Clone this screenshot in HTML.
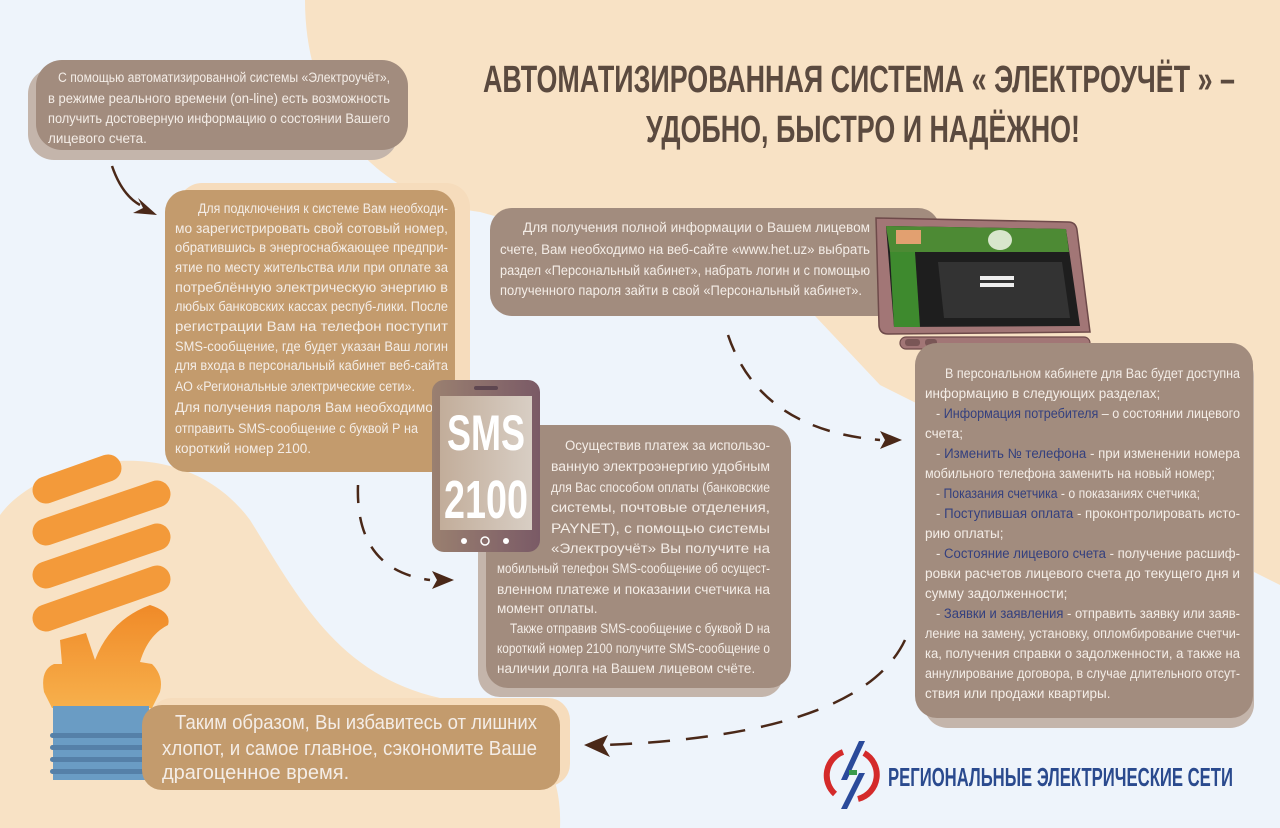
<!DOCTYPE html>
<html><head><meta charset="utf-8"><style>
html,body{margin:0;padding:0;background:#eef4fb;}
svg{display:block}
.t{font-family:"Liberation Sans Narrow","Liberation Sans",sans-serif;font-size:13.5px;fill:#f4ede7}
.b{fill:#34407e}
</style></head><body>
<svg width="1280" height="828" viewBox="0 0 1280 828" xmlns="http://www.w3.org/2000/svg">
<rect width="1280" height="828" fill="#eef4fb"/>
<path d="M305,0 C305,120 380,200 480,212 L800,300 L880,385 L1280,585 L1280,0 Z" fill="#f8e2c5"/>
<path d="M0,515 C40,460 180,425 250,520 C300,600 340,680 450,700 C545,715 562,780 560,828 L0,828 Z" fill="#f8e2c5"/>

<!-- box1 -->
<rect x="28" y="68" width="370" height="92" rx="26" fill="#c4b5ab"/>
<rect x="36" y="60" width="372" height="90" rx="26" fill="#a28c7e"/>
<g class="t">
<text x="58" y="82" textLength="332" lengthAdjust="spacingAndGlyphs">С помощью автоматизированной системы «Электроучёт»,</text>
<text x="48" y="103" textLength="342" lengthAdjust="spacingAndGlyphs">в режиме реального времени (on-line) есть возможность</text>
<text x="48" y="123" textLength="342" lengthAdjust="spacingAndGlyphs">получить достоверную информацию о состоянии Вашего</text>
<text x="48" y="143">лицевого счета.</text>
</g>

<!-- box2 -->
<rect x="178" y="183" width="292" height="285" rx="24" fill="#f6dcbc"/>
<rect x="165" y="190" width="290" height="282" rx="22" fill="#c39b6d"/>
<g class="t">
<text x="198" y="213" textLength="250" lengthAdjust="spacingAndGlyphs">Для подключения к системе Вам необходи-</text>
<text x="175" y="233" textLength="273" lengthAdjust="spacingAndGlyphs">мо зарегистрировать свой сотовый номер,</text>
<text x="175" y="252" textLength="273" lengthAdjust="spacingAndGlyphs">обратившись в энергоснабжающее предпри-</text>
<text x="175" y="272" textLength="273" lengthAdjust="spacingAndGlyphs">ятие по месту жительства или при оплате за</text>
<text x="175" y="292" textLength="273" lengthAdjust="spacingAndGlyphs">потреблённую электрическую энергию в</text>
<text x="175" y="311" textLength="273" lengthAdjust="spacingAndGlyphs">любых банковских кассах респуб-лики. После</text>
<text x="175" y="331" textLength="273" lengthAdjust="spacingAndGlyphs">регистрации Вам на телефон поступит</text>
<text x="175" y="351" textLength="273" lengthAdjust="spacingAndGlyphs">SMS-сообщение, где будет указан Ваш логин</text>
<text x="175" y="370" textLength="273" lengthAdjust="spacingAndGlyphs">для входа в персональный кабинет веб-сайта</text>
<text x="175" y="391" textLength="240" lengthAdjust="spacingAndGlyphs">АО «Региональные электрические сети».</text>
<text x="175" y="412" textLength="258" lengthAdjust="spacingAndGlyphs">Для получения пароля Вам необходимо</text>
<text x="175" y="433" textLength="243" lengthAdjust="spacingAndGlyphs">отправить SMS-сообщение с буквой Р на</text>
<text x="175" y="453">короткий номер 2100.</text>
</g>

<!-- box3 -->
<rect x="490" y="208" width="450" height="108" rx="22" fill="#a28c7e"/>
<g class="t">
<text x="523" y="232" textLength="347" lengthAdjust="spacingAndGlyphs">Для получения полной информации о Вашем лицевом</text>
<text x="500" y="254" textLength="370" lengthAdjust="spacingAndGlyphs">счете, Вам необходимо на веб-сайте «www.het.uz» выбрать</text>
<text x="500" y="275" textLength="370" lengthAdjust="spacingAndGlyphs">раздел «Персональный кабинет», набрать логин и с помощью</text>
<text x="500" y="295" textLength="362" lengthAdjust="spacingAndGlyphs">полученного пароля зайти  в свой «Персональный кабинет».</text>
</g>

<!-- laptop -->
<path d="M876,218 L1068,222 Q1076,222 1077,230 L1090,332 L888,334 Q880,334 879,326 Z" fill="#a27676" stroke="#6e4a4a" stroke-width="1.5"/>
<path d="M886,226 L1066,229 L1080,326 L894,327 Z" fill="#1e1e1e"/>
<path d="M886,226 L1066,229 L1069,252 L890,252 Z" fill="#4d8a34"/>
<path d="M890,252 L915,252 L920,327 L894,327 Z" fill="#3e8a2e"/>
<rect x="896" y="230" width="25" height="14" fill="#e2a070"/>
<path d="M938,262 L1062,262 L1070,318 L944,318 Z" fill="#333"/>
<rect x="980" y="276" width="34" height="4" fill="#eee"/>
<rect x="980" y="283" width="34" height="4" fill="#eee"/>
<ellipse cx="1000" cy="240" rx="12" ry="10" fill="#d8e6cc"/>
<rect x="900" y="337" width="190" height="12" rx="6" fill="#a27676" stroke="#6e4a4a" stroke-width="1.2"/>
<rect x="905" y="339" width="15" height="7" rx="3" fill="#7a5656"/>
<rect x="925" y="339" width="12" height="7" rx="3" fill="#7a5656"/>

<!-- box4 -->
<rect x="924" y="352" width="330" height="376" rx="24" fill="#c4b5ab"/>
<rect x="915" y="343" width="338" height="375" rx="22" fill="#a28c7e"/>
<g class="t">
<text x="945" y="378" textLength="295" lengthAdjust="spacingAndGlyphs">В персональном кабинете для Вас будет доступна</text>
<text x="925" y="398">информацию в следующих разделах;</text>
<text x="936" y="418" textLength="304" lengthAdjust="spacingAndGlyphs">- <tspan class="b">Информация потребителя</tspan> –  о состоянии лицевого</text>
<text x="925" y="438">счета;</text>
<text x="936" y="458" textLength="304" lengthAdjust="spacingAndGlyphs">- <tspan class="b">Изменить № телефона</tspan>  - при изменении номера</text>
<text x="925" y="478" textLength="290" lengthAdjust="spacingAndGlyphs">мобильного телефона заменить на новый номер;</text>
<text x="936" y="498" textLength="264" lengthAdjust="spacingAndGlyphs">- <tspan class="b">Показания счетчика</tspan>  - о показаниях счетчика;</text>
<text x="936" y="518" textLength="304" lengthAdjust="spacingAndGlyphs">- <tspan class="b">Поступившая оплата</tspan>  - проконтролировать  исто-</text>
<text x="925" y="538">рию оплаты;</text>
<text x="936" y="558" textLength="304" lengthAdjust="spacingAndGlyphs">- <tspan class="b">Состояние лицевого счета</tspan>  - получение  расшиф-</text>
<text x="925" y="578" textLength="315" lengthAdjust="spacingAndGlyphs">ровки  расчетов лицевого счета до текущего дня  и</text>
<text x="925" y="598">сумму задолженности;</text>
<text x="936" y="618" textLength="304" lengthAdjust="spacingAndGlyphs">- <tspan class="b">Заявки и заявления</tspan>  - отправить заявку или  заяв-</text>
<text x="925" y="638" textLength="315" lengthAdjust="spacingAndGlyphs">ление на замену, установку,  опломбирование счетчи-</text>
<text x="925" y="658" textLength="315" lengthAdjust="spacingAndGlyphs">ка, получения справки о задолженности, а также на</text>
<text x="925" y="678" textLength="315" lengthAdjust="spacingAndGlyphs">аннулирование договора, в случае длительного отсут-</text>
<text x="925" y="698">ствия или продажи квартиры.</text>
</g>

<!-- box5 -->
<rect x="478" y="433" width="305" height="264" rx="22" fill="#c4b5ab"/>
<rect x="486" y="425" width="305" height="263" rx="22" fill="#a28c7e"/>
<g class="t">
<text x="565" y="450" textLength="205" lengthAdjust="spacingAndGlyphs">Осуществив платеж за использо-</text>
<text x="551" y="471" textLength="219" lengthAdjust="spacingAndGlyphs">ванную электроэнергию удобным</text>
<text x="551" y="492" textLength="219" lengthAdjust="spacingAndGlyphs">для Вас способом оплаты (банковские</text>
<text x="551" y="512" textLength="219" lengthAdjust="spacingAndGlyphs">системы, почтовые отделения,</text>
<text x="551" y="533" textLength="219" lengthAdjust="spacingAndGlyphs">PAYNET), с помощью системы</text>
<text x="551" y="553" textLength="219" lengthAdjust="spacingAndGlyphs">«Электроучёт» Вы получите на</text>
<text x="497" y="573" textLength="273" lengthAdjust="spacingAndGlyphs">мобильный телефон SMS-сообщение об осущест-</text>
<text x="497" y="594" textLength="273" lengthAdjust="spacingAndGlyphs">вленном платеже и показании счетчика на</text>
<text x="497" y="613">момент оплаты.</text>
<text x="510" y="633" textLength="260" lengthAdjust="spacingAndGlyphs">Также отправив SMS-сообщение с буквой D на</text>
<text x="497" y="653" textLength="273" lengthAdjust="spacingAndGlyphs">короткий номер 2100 получите SMS-сообщение о</text>
<text x="497" y="673">наличии долга на Вашем лицевом счёте.</text>
</g>

<!-- phone -->
<defs><linearGradient id="ph" x1="0" x2="1"><stop offset="0" stop-color="#9a8070"/><stop offset="1" stop-color="#7a5a66"/></linearGradient>
<linearGradient id="sc" x1="0" x2="1"><stop offset="0" stop-color="#c2ad9a"/><stop offset="1" stop-color="#d8cec4"/></linearGradient>
<linearGradient id="bl" x1="0" y1="0" x2="0" y2="1"><stop offset="0" stop-color="#f08a28"/><stop offset="1" stop-color="#f7b04c"/></linearGradient></defs>
<rect x="432" y="380" width="108" height="172" rx="12" fill="url(#ph)"/>
<rect x="440" y="396" width="92" height="134" fill="url(#sc)"/>
<rect x="474" y="386" width="24" height="4" rx="2" fill="#5e4650"/>
<text x="486" y="450" text-anchor="middle" font-family="Liberation Sans Narrow,Liberation Sans,sans-serif" font-weight="bold" font-size="50" fill="#fff" textLength="78" lengthAdjust="spacingAndGlyphs">SMS</text>
<text x="486" y="518" text-anchor="middle" font-family="Liberation Sans Narrow,Liberation Sans,sans-serif" font-weight="bold" font-size="54" fill="#fff" textLength="84" lengthAdjust="spacingAndGlyphs">2100</text>
<circle cx="464" cy="541" r="3" fill="#fff"/><circle cx="485" cy="541" r="4" fill="none" stroke="#fff" stroke-width="1.5"/><circle cx="506" cy="541" r="3" fill="#fff"/>

<!-- bulb -->
<g stroke="#f39a3a" stroke-width="27" stroke-linecap="round" fill="none">
<line x1="46" y1="490" x2="108" y2="468"/>
<line x1="46" y1="532" x2="157" y2="494"/>
<line x1="46" y1="575" x2="157" y2="537"/>
<line x1="46" y1="618" x2="157" y2="579"/>
</g>
<path d="M60,640 L86,633 L95,660 Q110,620 150,605 Q172,612 168,625 Q148,635 140,662 L152,664 Q164,676 160,692 L152,708 L52,708 L44,692 Q40,670 54,664 L62,664 Z" fill="url(#bl)"/>
<rect x="53" y="706" width="96" height="74" fill="#6a9cc4"/>
<g fill="#5580a8"><rect x="50" y="733" width="100" height="5" rx="2.5"/><rect x="50" y="745" width="100" height="5" rx="2.5"/><rect x="50" y="757" width="100" height="5" rx="2.5"/><rect x="50" y="769" width="100" height="5" rx="2.5"/></g>

<!-- box6 -->
<rect x="150" y="698" width="420" height="88" rx="22" fill="#f6dcbc"/>
<rect x="142" y="705" width="418" height="85" rx="20" fill="#c39b6d"/>
<g class="t" style="font-size:20px">
<text x="175" y="729" textLength="362" lengthAdjust="spacingAndGlyphs">Таким образом, Вы избавитесь от лишних</text>
<text x="162" y="755" textLength="375" lengthAdjust="spacingAndGlyphs">хлопот, и самое главное, сэкономите Ваше</text>
<text x="162" y="779">драгоценное время.</text>
</g>

<!-- arrows -->
<g fill="none" stroke="#4a2818" stroke-width="2.5">
<path d="M112,166 Q122,195 140,205"/>
<path d="M728,335 Q760,430 880,440" stroke-dasharray="18,14"/>
<path d="M358,485 Q355,570 430,580" stroke-dasharray="18,14"/>
<path d="M905,640 Q860,735 605,745" stroke-dasharray="22,16"/>
</g>
<g fill="#4a2818">
<path d="M157,215 L133,213 L143,208 L138,198 Z"/>
<path d="M902,440 L880,431 L885,440 L880,449 Z"/>
<path d="M454,580 L432,571 L437,580 L432,589 Z"/>
<path d="M584,745 L608,735 L603,745 L610,757 Z"/>
</g>

<!-- title -->
<g font-family="Liberation Sans Narrow,Liberation Sans,sans-serif" font-weight="bold" fill="#5b4a3f" font-size="38">
<text x="483" y="92" textLength="752" lengthAdjust="spacingAndGlyphs">АВТОМАТИЗИРОВАННАЯ СИСТЕМА « ЭЛЕКТРОУЧЁТ » –</text>
<text x="646" y="142" textLength="434" lengthAdjust="spacingAndGlyphs">УДОБНО, БЫСТРО И НАДЁЖНО!</text>
</g>

<!-- logo -->
<path d="M835,794 A25,25 0 0 1 843,752" fill="none" stroke="#d42a2a" stroke-width="6"/>
<path d="M864,753 A25,25 0 0 1 858,799" fill="none" stroke="#d42a2a" stroke-width="6"/>
<path d="M859,741 L865,741 L847,780 L841,780 Z" fill="#2a4a9a"/>
<path d="M859,773 L865,773 L847,809 L841,809 Z" fill="#2a4a9a"/>
<rect x="849" y="770" width="8" height="5" fill="#3a9a4a"/>
<text x="888" y="786" font-family="Liberation Sans Narrow,Liberation Sans,sans-serif" font-weight="bold" font-size="26" fill="#2a4a8e" textLength="345" lengthAdjust="spacingAndGlyphs">РЕГИОНАЛЬНЫЕ ЭЛЕКТРИЧЕСКИЕ СЕТИ</text>
</svg>
</body></html>
